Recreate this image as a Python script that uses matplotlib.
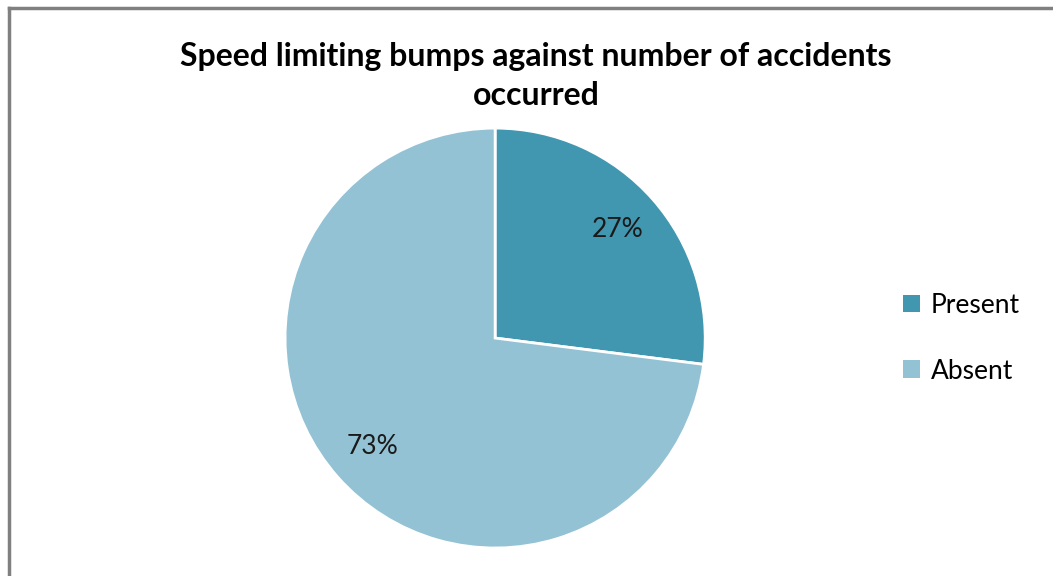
import matplotlib.pyplot as plt
from matplotlib.lines import Line2D
from matplotlib.patches import Patch

plt.rcParams['font.family'] = ['Lato', 'DejaVu Sans']

labels = ['Present', 'Absent']
values = [27, 73]
colors = ['#4197b0', '#93c2d4']

fig = plt.figure(figsize=(10.53, 5.76), dpi=100)
ax = fig.add_axes([0.2707, 0.0486, 0.399, 0.729])

wedges, texts, autotexts = ax.pie(values, colors=colors, startangle=90, counterclock=False,
                                  autopct='%1.0f%%', pctdistance=0.78,
                                  wedgeprops=dict(edgecolor='white', linewidth=2),
                                  textprops=dict(fontsize=19, color='#1a1a1a'))
ax.set_aspect('auto')
ax.set_xlim(-1, 1)
ax.set_ylim(-1, 1)

fig.text(0.509, 0.868, 'Speed limiting bumps against number of accidents\noccurred',
         ha='center', va='center', fontsize=23, fontweight='bold', linespacing=1.45)

handles = [Patch(facecolor=c, edgecolor='none') for c in colors]
fig.legend(handles, labels, loc='center left', bbox_to_anchor=(0.835, 0.413), frameon=False,
           fontsize=19, handlelength=0.65, handleheight=0.65, handletextpad=0.4, labelspacing=1.55)

# grey frame along top and left edges
fig.add_artist(Line2D([0.0085, 1.0], [0.986, 0.986], transform=fig.transFigure, color='#808080', lw=2.5))
fig.add_artist(Line2D([0.0085, 0.0085], [0.0, 0.986], transform=fig.transFigure, color='#808080', lw=2.5))

fig.savefig('out.png', dpi=100, facecolor='white')
